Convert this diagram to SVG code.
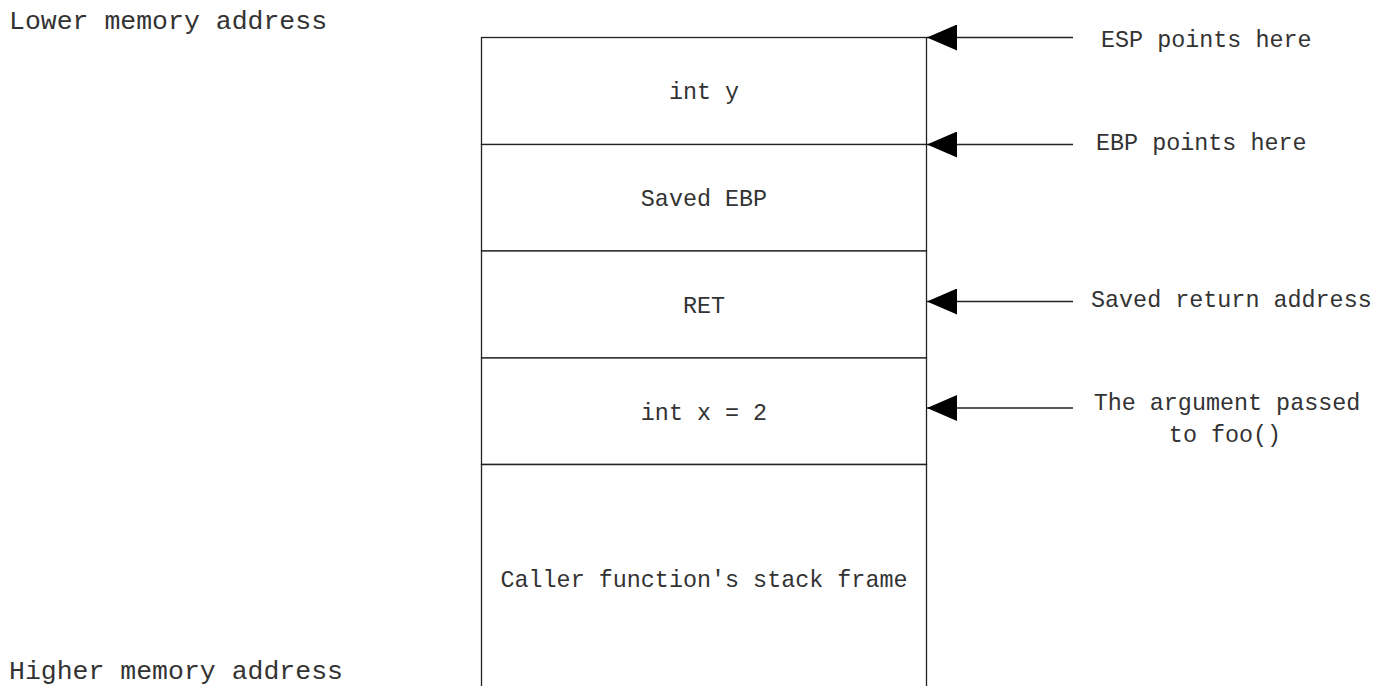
<svg xmlns="http://www.w3.org/2000/svg" width="1386" height="686" viewBox="0 0 1386 686">
<style>
text{font-family:"Liberation Mono","Courier New",monospace;fill:#333;font-size:23.4px}
.c{text-anchor:middle}
.big{font-size:26.5px}
.cell{fill:#fff;stroke:#222;stroke-width:1.3}
.arr{stroke:#222;stroke-width:1.3;fill:none;marker-end:url(#ah)}
</style>
<defs>
<marker id="ah" viewBox="0 0 30 26" refX="30" refY="13" markerWidth="30" markerHeight="26" markerUnits="userSpaceOnUse" orient="auto">
<path d="M0,0L30,13L0,26Z" fill="#000"/>
</marker>
</defs>
<g id="lbl-lower"><text class="big" x="9" y="29">Lower memory address</text></g>
<g id="lbl-higher"><text class="big" x="9" y="679">Higher memory address</text></g>
<g id="cell-y"><rect class="cell" x="481.5" y="37.5" width="445" height="107"/><text class="c" x="704" y="99">int y</text></g>
<g id="cell-ebp"><rect class="cell" x="481.5" y="144.5" width="445" height="106.5"/><text class="c" x="704" y="206">Saved EBP</text></g>
<g id="cell-ret"><rect class="cell" x="481.5" y="251" width="445" height="107"/><text class="c" x="704" y="313">RET</text></g>
<g id="cell-x"><rect class="cell" x="481.5" y="358" width="445" height="106.5"/><text class="c" x="704" y="420">int x = 2</text></g>
<g id="cell-caller"><path class="cell" d="M481.5,690V464.5H926.5V690"/><text class="c" x="704" y="587">Caller function's stack frame</text></g>
<g id="lbl-esp"><text x="1101" y="47">ESP points here</text></g>
<g id="lbl-ebp"><text x="1096" y="150">EBP points here</text></g>
<g id="lbl-ret"><text x="1091" y="307">Saved return address</text></g>
<g id="lbl-arg"><text class="c" x="1227" y="410">The argument passed</text><text class="c" x="1225" y="442">to foo()</text></g>
<g id="connectors">
<line class="arr" x1="1073" y1="37.5" x2="927" y2="37.5"/>
<line class="arr" x1="1073" y1="144.5" x2="927" y2="144.5"/>
<line class="arr" x1="1073" y1="301.5" x2="927" y2="301.5"/>
<line class="arr" x1="1073" y1="408" x2="927" y2="408"/>
</g>
</svg>
